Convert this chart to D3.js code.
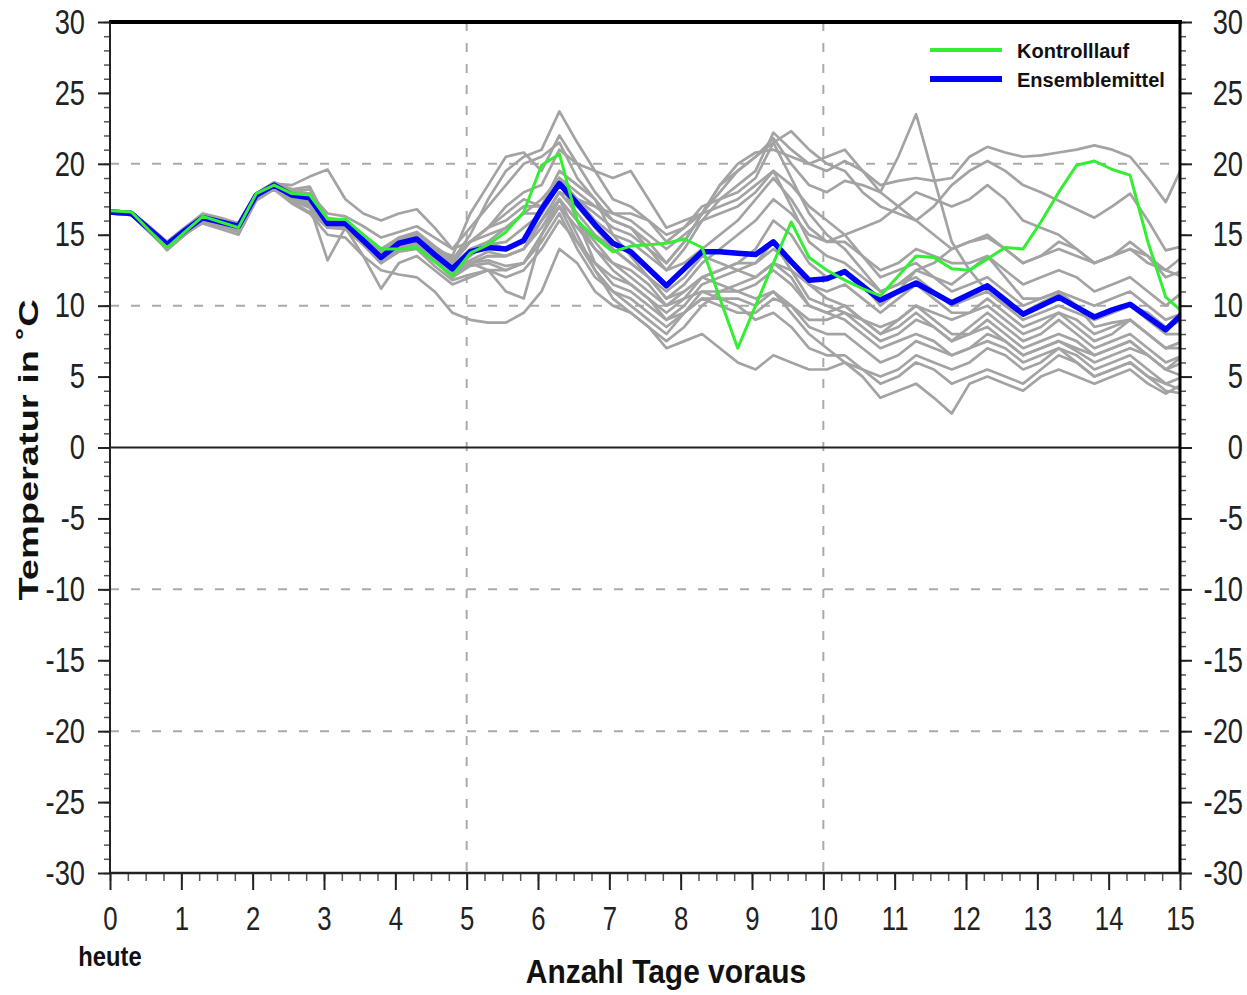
<!DOCTYPE html>
<html>
<head>
<meta charset="utf-8">
<script src="https://cdnjs.cloudflare.com/ajax/libs/d3/7.8.5/d3.min.js"></script>
<style>
body { margin: 0; background: #fff; }
text { font-family: "Liberation Sans", Arial, sans-serif; }
</style>
</head>
<body>
<script>
// forecast lead time in days (6-hourly steps)
var days = [0,0.3,0.55,0.8,1.05,1.3,1.55,1.8,2.05,2.3,2.55,2.8,3.05,3.3,3.55,3.8,4.05,4.3,4.55,4.8,5.05,5.3,5.55,5.8,
  6.05,6.3,6.55,6.8,7.05,7.3,7.55,7.8,8.05,8.3,8.55,8.8,9.05,9.3,9.55,9.8,10.05,10.3,10.55,10.8,11.05,11.3,11.55,11.8,
  12.05,12.3,12.55,12.8,13.05,13.3,13.55,13.8,14.05,14.3,14.55,14.8,15.05];

var ensembleMean = [16.6,16.5,15.4,14.3,15.3,16.2,15.9,15.6,17.8,18.5,17.8,17.6,
  15.8,15.8,14.6,13.4,14.4,14.7,13.6,12.6,13.8,14.1,14.0,14.6,
  16.8,18.6,17.2,15.7,14.4,13.8,12.6,11.4,12.6,13.8,13.8,13.7,
  13.6,14.5,13.1,11.8,11.9,12.4,11.4,10.4,11.0,11.6,10.9,10.2,
  10.8,11.4,10.4,9.4,10.0,10.6,9.9,9.2,9.7,10.1,9.2,8.3,9.5];

var controlRun = [16.7,16.6,15.3,14.1,15.2,16.3,15.9,15.5,17.9,18.5,17.9,17.8,
  16.1,16.1,15.0,14.0,14.0,14.1,13.1,12.1,13.7,14.3,15.2,16.6,
  19.9,20.7,16.0,14.8,13.8,14.2,14.3,14.4,14.7,14.1,10.5,7.0,
  10.0,13.0,15.9,13.4,12.5,11.8,11.2,10.7,12.1,13.5,13.4,12.6,
  12.5,13.3,14.1,14.0,15.9,18.0,19.9,20.2,19.6,19.2,14.5,10.6,9.5];

var ensembleMembers = [
  [16.7,16.6,15.5,14.5,15.5,16.4,16.1,15.8,17.9,18.6,18.0,17.9, 16.5,16.3,15.6,14.8,15.2,15.6,14.8,14.0,15.5,17.0,18.5,20.0,
   20.5,21.5,19.0,17.5,16.0,15.5,14.5,13.0,14.5,16.5,18.5,20.0, 20.8,21.0,20.5,20.0,19.5,20.2,19.5,18.5,18.8,19.0,18.8,19.0,
   20.5,21.2,20.8,20.5,20.6,20.8,21.0,21.3,21.0,20.5,19.0,17.3,20.0],
  [16.6,16.5,15.3,14.1,15.2,16.3,15.8,15.3,17.7,18.6,18.2,18.4, 16.0,15.5,14.8,13.8,14.6,15.0,14.0,13.2,15.0,17.5,19.5,20.5,
   21.0,23.7,21.5,19.5,17.5,17.0,16.0,14.5,15.5,17.0,17.5,18.0, 19.0,21.5,22.3,21.0,20.0,19.5,18.0,17.0,16.5,16.0,17.0,18.5,
   19.5,20.2,19.5,18.5,18.0,17.4,16.8,16.2,17.0,17.9,16.0,13.9,14.2],
  [16.5,16.4,15.2,14.0,15.0,16.0,15.7,15.4,17.6,18.3,17.3,16.6, 15.5,15.4,14.3,13.0,14.0,14.3,13.2,12.0,13.0,13.5,13.5,14.0,
   16.0,18.0,17.5,17.0,16.5,16.5,16.0,15.0,15.5,16.5,18.0,19.5, 20.5,21.8,20.0,18.5,18.0,18.8,18.5,18.0,20.5,23.5,19.0,14.5,
   12.5,11.0,10.0,9.5,10.2,10.8,10.0,8.5,8.8,9.0,8.0,7.0,7.5],
  [16.6,16.5,15.4,14.2,15.1,15.8,15.4,15.0,17.4,18.2,17.2,16.5, 15.0,14.8,13.5,12.5,12.2,12.0,11.0,9.5,9.0,8.8,8.8,9.5,
   11.0,14.0,13.0,11.0,10.0,9.5,8.5,7.5,8.5,10.0,11.0,11.5, 12.0,13.0,12.0,10.0,9.5,9.0,8.0,7.0,7.5,8.0,7.5,6.5,
   7.0,8.0,7.5,6.5,7.0,7.5,6.8,6.0,6.5,7.0,6.5,5.5,6.0],
  [16.7,16.6,15.6,14.5,15.5,16.5,16.2,15.8,17.9,18.7,18.1,17.9, 16.0,16.0,15.0,14.0,14.5,15.0,14.0,13.5,16.5,18.5,20.5,20.8,
   19.5,22.0,20.0,18.0,16.5,16.0,15.0,14.0,15.0,16.0,16.5,17.0, 18.0,19.5,18.5,17.0,16.0,15.0,13.5,12.0,12.5,13.0,12.0,11.0,
   11.5,12.0,11.0,10.0,10.5,11.0,10.5,10.0,10.5,11.0,10.0,9.0,9.5],
  [16.6,16.6,15.5,14.4,15.4,16.3,16.0,15.7,17.9,18.6,18.5,19.1, 19.6,17.5,16.5,16.0,16.5,16.8,15.5,14.0,14.5,15.0,15.5,16.5,
   17.5,19.0,16.0,13.0,11.5,11.0,10.0,9.0,10.0,11.5,12.0,12.5, 13.0,14.5,12.5,10.5,10.0,9.5,8.5,7.5,8.0,9.0,8.5,7.5,
   8.0,9.0,8.0,7.0,7.5,8.0,7.5,6.5,7.0,7.5,6.5,5.5,6.5],
  [16.5,16.4,15.3,14.2,15.2,16.0,15.6,15.2,17.6,18.3,17.5,17.0, 13.2,15.5,13.5,11.2,13.0,13.5,12.5,11.5,12.0,12.5,12.5,13.0,
   15.0,17.0,14.5,12.5,11.0,10.0,9.0,8.0,9.5,11.0,11.0,11.0, 11.5,12.5,11.5,10.0,9.5,10.0,9.0,8.0,8.5,9.5,8.5,7.5,
   8.5,9.5,8.5,7.5,8.0,9.0,8.0,7.0,7.5,8.0,7.0,6.0,6.5],
  [16.6,16.5,15.3,13.9,15.0,15.9,15.6,15.2,17.5,18.4,17.6,17.2, 15.5,15.5,14.3,13.0,14.0,14.3,13.2,12.0,12.8,13.0,12.5,13.0,
   14.5,16.5,14.0,12.0,11.0,10.5,9.5,8.5,9.5,10.5,10.5,10.5, 10.0,11.0,9.5,8.0,7.0,6.0,5.0,3.5,4.0,4.5,3.5,2.4,
   4.5,5.0,4.5,4.0,5.0,5.5,5.0,4.5,5.0,5.5,4.5,3.8,4.5],
  [16.7,16.6,15.5,14.4,15.4,16.3,16.0,15.8,17.9,18.6,17.9,17.7, 16.0,15.8,14.8,13.8,14.8,15.0,14.0,13.0,14.5,15.5,17.0,18.0,
   18.5,21.0,20.0,19.5,19.0,19.5,17.5,15.5,16.0,16.5,17.0,17.5, 18.5,19.5,17.0,14.5,13.5,13.0,12.0,11.0,11.5,12.0,11.0,10.0,
   10.5,11.0,10.0,9.0,9.5,10.0,9.5,9.0,9.5,10.0,9.5,8.5,9.0],
  [16.6,16.5,15.4,14.3,15.3,16.2,15.9,15.6,17.8,18.5,17.7,17.4, 15.8,15.6,14.5,13.2,14.2,14.6,13.5,12.6,13.5,14.5,15.5,16.5,
   16.5,19.0,17.5,16.0,15.0,14.5,13.5,12.5,14.0,16.0,17.5,18.5, 19.5,22.2,21.0,20.0,20.5,21.0,19.5,18.0,17.0,16.0,15.0,14.0,
   14.5,15.0,14.0,13.0,13.5,14.0,13.5,13.0,13.5,14.0,13.0,12.5,13.5],
  [16.6,16.6,15.5,14.4,15.3,16.1,15.9,15.7,17.9,18.7,18.2,17.6, 15.8,15.8,14.6,13.5,14.5,14.8,13.8,12.8,13.0,12.5,11.0,10.5,
   15.0,17.5,15.0,12.5,10.5,9.5,8.5,7.0,7.5,8.0,7.0,6.0, 5.5,6.5,6.0,5.5,5.5,6.0,5.5,5.0,5.5,6.5,6.0,5.5,
   6.0,7.0,6.5,5.5,6.0,7.0,6.0,5.0,5.5,6.0,5.0,4.5,4.0],
  [16.5,16.4,15.3,14.2,15.2,16.1,15.8,15.5,17.7,18.4,17.7,17.5, 16.0,16.0,14.8,13.6,14.6,15.0,13.8,12.8,14.0,14.5,14.0,14.5,
   16.0,18.0,16.5,15.0,14.0,13.0,12.0,11.0,12.0,13.5,13.0,12.5, 12.0,13.0,12.5,11.5,11.0,11.5,10.5,9.5,10.5,11.5,10.5,9.5,
   9.5,10.0,9.0,8.0,8.5,9.5,8.5,7.5,8.0,9.0,8.0,7.0,7.5],
  [16.7,16.6,15.5,14.4,15.4,16.4,16.1,15.8,17.9,18.6,18.0,17.9, 16.2,16.0,15.0,14.0,14.8,15.2,14.2,13.3,14.5,15.5,16.0,17.0,
   17.0,19.5,18.5,17.5,15.0,13.5,12.0,10.5,11.0,12.0,12.5,13.0, 14.0,16.0,15.0,13.0,12.0,12.5,11.5,10.0,11.0,12.5,13.0,14.0,
   14.5,14.8,14.0,13.0,13.5,14.5,14.0,13.0,13.5,14.5,13.5,12.0,12.5],
  [16.6,16.5,15.4,14.3,15.3,16.2,15.9,15.6,17.7,18.4,17.5,17.3, 15.6,15.6,14.4,13.2,14.2,14.5,13.4,12.3,13.0,13.5,13.5,14.0,
   15.5,17.5,16.0,14.0,12.5,11.5,10.5,9.5,10.5,12.0,12.5,13.0, 13.0,14.0,13.0,11.5,10.5,10.0,9.0,8.0,9.0,10.0,9.0,8.0,
   8.0,8.5,7.5,6.5,7.0,7.5,7.0,6.5,7.0,7.5,6.5,5.5,5.0],
  [16.5,16.4,15.3,14.1,15.1,16.0,15.7,15.4,17.6,18.4,17.8,17.8, 15.8,15.7,14.5,13.3,14.3,14.6,13.5,12.5,13.2,13.8,13.5,14.0,
   16.0,17.5,16.0,14.5,13.0,12.0,11.0,10.0,11.0,12.0,11.5,11.0, 10.5,11.0,10.0,8.5,8.0,8.0,7.0,6.0,6.5,7.5,7.0,6.5,
   7.0,7.5,7.0,6.0,6.5,7.0,6.5,5.5,6.0,6.5,5.5,4.5,5.0],
  [16.7,16.6,15.5,14.4,15.3,16.2,15.9,15.6,17.8,18.5,17.9,17.8, 16.0,15.9,14.7,13.5,14.5,14.8,13.7,12.7,13.8,14.3,14.5,15.5,
   16.5,18.5,17.5,16.5,15.5,15.0,14.0,13.0,14.5,16.5,18.5,19.5, 20.5,21.5,19.0,16.5,15.0,14.0,12.5,11.0,11.5,12.5,12.0,11.5,
   12.5,13.5,12.5,11.5,12.0,12.5,12.0,11.0,11.5,12.0,11.0,10.0,11.0],
  [16.6,16.5,15.3,14.1,15.1,15.9,15.6,15.3,17.6,18.4,17.4,16.9, 15.5,15.6,14.4,13.0,13.8,14.0,12.8,11.8,12.2,12.5,12.0,12.5,
   14.0,16.0,14.5,13.0,12.0,11.5,10.5,9.0,9.5,10.5,10.0,9.5, 9.5,10.5,10.0,9.0,9.0,9.5,9.0,8.5,9.0,10.0,9.5,9.0,
   9.5,10.5,9.5,8.5,9.0,9.5,9.0,8.0,8.5,9.0,8.0,7.0,7.0],
  [16.6,16.5,15.4,14.3,15.4,16.3,16.0,15.7,17.8,18.6,18.1,18.2, 16.1,16.0,14.9,13.9,14.7,15.0,14.0,13.0,14.5,15.5,16.5,17.5,
   17.0,19.0,18.0,17.0,16.0,15.5,14.0,12.5,13.0,14.0,15.0,16.0, 17.5,19.0,17.5,15.5,14.5,14.5,13.5,12.5,13.0,14.0,13.5,13.0,
   13.0,13.5,12.0,10.5,10.5,11.0,10.0,9.0,9.5,10.0,9.0,8.0,8.0],
  [16.5,16.4,15.2,14.0,15.0,15.9,15.6,15.3,17.5,18.3,17.4,17.1, 15.7,15.7,14.5,13.2,14.2,14.5,13.5,12.5,13.0,13.2,12.8,13.0,
   15.0,17.0,15.5,14.0,13.0,12.5,11.5,10.0,10.5,11.0,10.5,10.0, 9.0,9.5,8.5,7.0,6.5,6.5,5.5,4.5,5.0,6.0,5.5,4.5,
   5.0,5.5,5.0,4.5,5.5,6.5,6.0,5.0,5.5,6.0,5.0,4.0,3.8],
  [16.6,16.5,15.4,14.3,15.3,16.2,15.9,15.6,17.8,18.5,17.8,17.6, 15.9,15.8,14.6,13.4,14.4,14.7,13.6,12.6,13.8,14.0,14.0,14.5,
   16.5,18.5,17.0,15.5,14.0,13.0,12.0,10.5,11.5,13.0,14.0,15.0, 16.0,17.5,16.5,15.0,14.5,15.0,15.5,16.0,17.0,18.0,17.5,17.0,
   17.5,18.5,17.5,16.0,15.5,15.0,14.0,13.0,13.5,14.0,13.5,12.5,12.0]
];

var yTickValues = [-30,-25,-20,-15,-10,-5,0,5,10,15,20,25,30];
var xTickValues = [0,1,2,3,4,5,6,7,8,9,10,11,12,13,14,15];
var yGridValues = [-20,-10,10,20];
var xGridValues = [5,10];
var legendItems = [
  { name: "Kontrolllauf", color: "#33ee33", width: 4 },
  { name: "Ensemblemittel", color: "#0000ff", width: 6 }
];

var canvasWidth = 1247;
var canvasHeight = 995;
var margin = { top: 22, right: 67, bottom: 122, left: 110 };
var width = canvasWidth - margin.left - margin.right;
var height = canvasHeight - margin.top - margin.bottom;

var svg = d3.select("body").append("svg")
    .attr("width", canvasWidth)
    .attr("height", canvasHeight);

var xScale = d3.scaleLinear().domain([0, 15]).range([margin.left, margin.left + width]);
var yScale = d3.scaleLinear().domain([-30, 30]).range([margin.top + height, margin.top]);

var sx = 0.78; // narrow glyphs like the original
var plainNumber = d => String(d); // plain hyphen for negative numbers

// grid
svg.append("g").selectAll("line").data(yGridValues).join("line")
    .attr("x1", xScale(0)).attr("x2", xScale(15))
    .attr("y1", d => yScale(d)).attr("y2", d => yScale(d))
    .attr("stroke", "#aaa").attr("stroke-width", 2).attr("stroke-dasharray", "9,12");
svg.append("g").selectAll("line").data(xGridValues).join("line")
    .attr("x1", d => xScale(d)).attr("x2", d => xScale(d))
    .attr("y1", yScale(30)).attr("y2", yScale(-30))
    .attr("stroke", "#aaa").attr("stroke-width", 2).attr("stroke-dasharray", "9,12");

// zero line
svg.append("line")
    .attr("x1", xScale(0)).attr("x2", xScale(15))
    .attr("y1", yScale(0)).attr("y2", yScale(0))
    .attr("stroke", "#222").attr("stroke-width", 2);

// lines
svg.append("clipPath").attr("id", "plot")
    .append("rect")
    .attr("x", margin.left).attr("y", margin.top)
    .attr("width", width).attr("height", height);

var line = d3.line()
    .x((d, i) => xScale(days[i]))
    .y(d => yScale(d));

var lines_g = svg.append("g").attr("clip-path", "url(#plot)");

lines_g.selectAll(".member").data(ensembleMembers).join("path")
    .attr("class", "member")
    .attr("d", line)
    .attr("fill", "none")
    .attr("stroke", "#a3a3a3")
    .attr("stroke-width", 2.7)
    .attr("stroke-linejoin", "round");

lines_g.append("path")
    .datum(ensembleMean)
    .attr("d", line)
    .attr("fill", "none")
    .attr("stroke", "#0000ff")
    .attr("stroke-width", 5.5)
    .attr("stroke-linejoin", "round");

lines_g.append("path")
    .datum(controlRun)
    .attr("d", line)
    .attr("fill", "none")
    .attr("stroke", "#33ee33")
    .attr("stroke-width", 3)
    .attr("stroke-linejoin", "round");

// axes: minor ticks
function minor(g) {
    g.select(".domain").remove();
    g.selectAll("line").attr("stroke", "#555").attr("stroke-width", 1.5);
}
svg.append("g").attr("transform", "translate(" + margin.left + ",0)")
    .call(d3.axisLeft(yScale).tickValues(d3.range(-30, 31, 1)).tickSize(6).tickFormat("")).call(minor);
svg.append("g").attr("transform", "translate(" + (margin.left + width) + ",0)")
    .call(d3.axisRight(yScale).tickValues(d3.range(-30, 31, 1)).tickSize(6).tickFormat("")).call(minor);
svg.append("g").attr("transform", "translate(0," + (margin.top + height) + ")")
    .call(d3.axisBottom(xScale).tickValues(d3.range(0, 15.01, 0.25)).tickSize(8).tickFormat("")).call(minor);

// axes: major ticks and labels
function major(g) {
    g.attr("font-size", null).attr("font-family", null);
    g.select(".domain").remove();
    g.selectAll("line").attr("stroke", "#222").attr("stroke-width", 2);
    g.selectAll("text").attr("fill", "#222").attr("transform", "scale(" + sx + ",1)");
}
svg.append("g").attr("transform", "translate(" + margin.left + ",0)")
    .call(d3.axisLeft(yScale).tickValues(yTickValues).tickSize(12).tickFormat(plainNumber))
    .call(major)
    .selectAll("text").attr("font-size", 35).attr("x", -25 / sx);
// right-hand labels are right-aligned near the page edge
svg.append("g").attr("transform", "translate(" + (margin.left + width) + ",0)")
    .call(d3.axisRight(yScale).tickValues(yTickValues).tickSize(12).tickFormat(plainNumber))
    .call(major)
    .selectAll("text").attr("font-size", 35).attr("text-anchor", "end").attr("x", 63 / sx);
svg.append("g").attr("transform", "translate(0," + (margin.top + height) + ")")
    .call(d3.axisBottom(xScale).tickValues(xTickValues).tickSize(17).tickFormat(plainNumber))
    .call(major)
    .selectAll("text").attr("font-size", 33).attr("y", 34);

// frame
svg.append("line").attr("x1", margin.left - 1).attr("x2", margin.left + width + 2)
    .attr("y1", margin.top).attr("y2", margin.top)
    .attr("stroke", "#000").attr("stroke-width", 4);
svg.append("line").attr("x1", margin.left + width).attr("x2", margin.left + width)
    .attr("y1", margin.top).attr("y2", margin.top + height)
    .attr("stroke", "#000").attr("stroke-width", 3);
svg.append("line").attr("x1", margin.left).attr("x2", margin.left)
    .attr("y1", margin.top).attr("y2", margin.top + height + 1)
    .attr("stroke", "#222").attr("stroke-width", 2);
svg.append("line").attr("x1", margin.left).attr("x2", margin.left + width + 1)
    .attr("y1", margin.top + height).attr("y2", margin.top + height)
    .attr("stroke", "#222").attr("stroke-width", 2.5);

// axis titles
svg.append("text")
    .attr("transform", "translate(38,450) scale(0.75,1) rotate(-90)")
    .attr("text-anchor", "middle")
    .attr("font-size", 38)
    .attr("font-weight", "bold")
    .attr("fill", "#111")
    .text("Temperatur in ˚C");

svg.append("text")
    .attr("transform", "translate(666,983) scale(0.88,1)")
    .attr("text-anchor", "middle")
    .attr("font-size", 34)
    .attr("font-weight", "bold")
    .attr("fill", "#111")
    .text("Anzahl Tage voraus");

svg.append("text")
    .attr("transform", "translate(110,966) scale(0.88,1)")
    .attr("text-anchor", "middle")
    .attr("font-size", 27)
    .attr("font-weight", "bold")
    .attr("fill", "#111")
    .text("heute");

// legend
var legend = svg.append("g").attr("transform", "translate(930,50)");
legend.selectAll("line").data(legendItems).join("line")
    .attr("x1", 0).attr("x2", 72)
    .attr("y1", (d, i) => i * 29).attr("y2", (d, i) => i * 29)
    .attr("stroke", d => d.color)
    .attr("stroke-width", d => d.width);
legend.selectAll("text").data(legendItems).join("text")
    .attr("x", 87)
    .attr("y", (d, i) => i * 29 + 8)
    .attr("font-size", 20)
    .attr("font-weight", "bold")
    .attr("fill", "#111")
    .text(d => d.name);
</script>
</body>
</html>
